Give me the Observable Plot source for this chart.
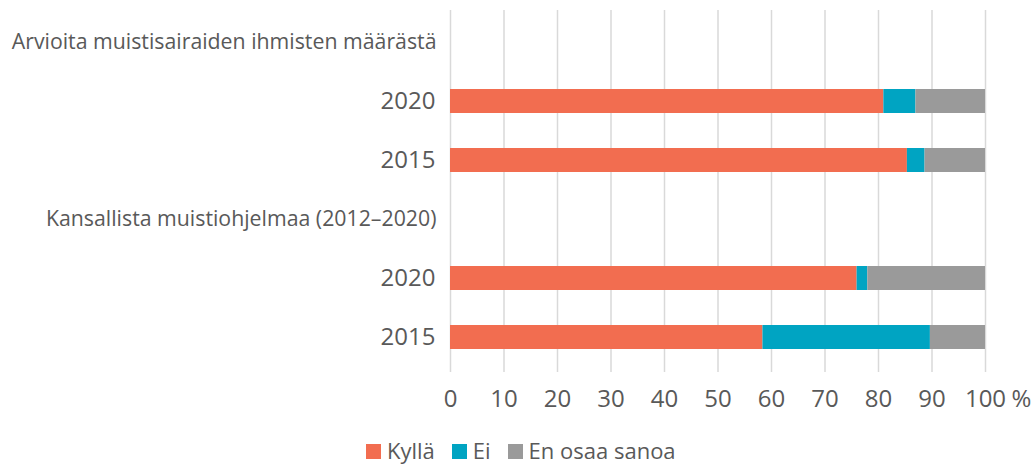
<!DOCTYPE html>
<html>
<head>
<meta charset="utf-8">
<script src="https://cdn.jsdelivr.net/npm/d3@7"></script>
<script src="https://cdn.jsdelivr.net/npm/@observablehq/plot@0.6"></script>
<style>
  html, body { margin: 0; padding: 0; background: #fff; }
  #wrap { position: relative; width: 1035px; height: 464px; font-family: "Open Sans", sans-serif; }
  #legend { position: absolute; left: 366px; top: 435px; display: flex; align-items: center; font-size: 22px; color: #595959; line-height: 30px; white-space: nowrap; }
  .item { display: flex; align-items: center; margin-right: 17px; }
  .sw { width: 15px; height: 15px; margin-right: 6px; margin-top: 2px; }
</style>
</head>
<body>
<div id="wrap"><div id="chart"></div><div id="legend"></div></div>
<script>
// Rows (ids are unique keys, labels are what is shown)
const rowIds = ["h1", "a2020", "a2015", "h2", "b2020", "b2015"];
const rowLabels = ["Arvioita muistisairaiden ihmisten määrästä", "2020", "2015", "Kansallista muistiohjelmaa (2012–2020)", "2020", "2015"];
const headerIds = ["h1", "h2"];
const yearIds = ["a2020", "a2015", "b2020", "b2015"];
// Series
const categories = ["Kyllä", "Ei", "En osaa sanoa"];
const colors = ["#F26D50", "#00A4C2", "#9A9A9A"];
const kylla = [null, 81, 85.4, null, 76, 58.4];
const ei = [null, 6, 3.3, null, 2, 31.3];
const eos = [null, 13, 11.3, null, 22, 10.3];
const xTicks = [0, 10, 20, 30, 40, 50, 60, 70, 80, 90, 100];

const series = [kylla, ei, eos];
const data = [];
rowIds.forEach((id, i) => {
  categories.forEach((c, j) => {
    const v = series[j][i];
    if (v != null) data.push({row: id, cat: c, value: v});
  });
});
const labelOf = Object.fromEntries(rowIds.map((id, i) => [id, rowLabels[i]]));

const chart = Plot.plot({
  width: 1035,
  height: 425,
  marginLeft: 450,
  marginRight: 50,
  marginTop: 10,
  marginBottom: 57,
  style: {fontFamily: "Open Sans, sans-serif", fontSize: "22px", color: "#595959", background: "transparent"},
  x: {domain: [0, 100], ticks: xTicks, label: null},
  y: {domain: rowIds, paddingInner: 0.6, paddingOuter: 0.3, label: null},
  color: {domain: categories, range: colors},
  marks: [
    Plot.gridX(xTicks, {stroke: "#D9D9D9", strokeOpacity: 1, strokeWidth: 1.5, insetBottom: -4}),
    Plot.barX(data, Plot.stackX({x: "value", y: "row", fill: "cat", order: categories})),
    Plot.axisX(xTicks, {tickSize: 0, tickPadding: 21, fill: "#595959", fontSize: 24, label: null}),
    Plot.text([100], {x: d => d, text: () => "%", frameAnchor: "bottom", lineAnchor: "top", textAnchor: "start", dx: 26, dy: 21, fill: "#595959", fontSize: 24}),
    Plot.axisY(yearIds, {tickSize: 0, tickPadding: 15, fill: "#595959", fontSize: 24, label: null, tickFormat: d => labelOf[d]}),
    Plot.axisY(headerIds, {tickSize: 0, tickPadding: 14, fill: "#595959", fontSize: 21.3, label: null, tickFormat: d => labelOf[d]})
  ]
});
document.getElementById("chart").appendChild(chart);

const legend = document.getElementById("legend");
categories.forEach((c, i) => {
  const it = document.createElement("div");
  it.className = "item";
  const sw = document.createElement("div");
  sw.className = "sw";
  sw.style.background = colors[i];
  const t = document.createElement("span");
  t.textContent = c;
  it.appendChild(sw); it.appendChild(t);
  legend.appendChild(it);
});
</script>
</body>
</html>
